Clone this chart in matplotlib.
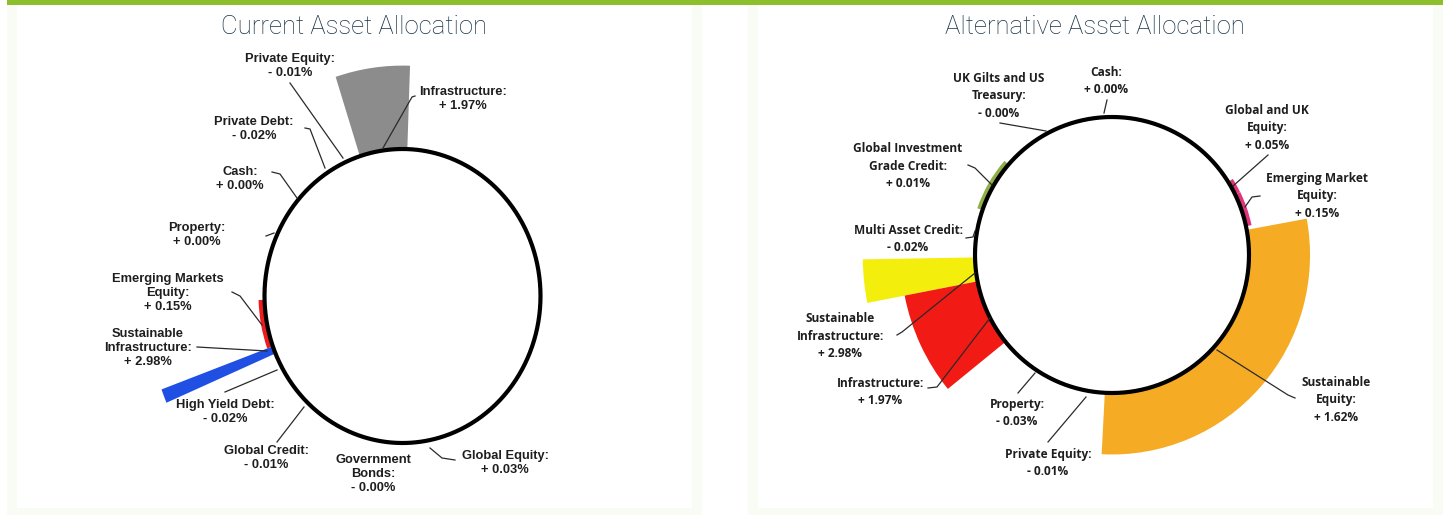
import math
import numpy as np
import matplotlib
matplotlib.use("Agg")
import matplotlib.pyplot as plt
from matplotlib.patches import Rectangle

W, H = 1451, 515

# ---------------- data ----------------
left_title = "Current Asset Allocation"
left_categories = ["Private Equity:", "Infrastructure:", "Private Debt:", "Cash:", "Property:",
                   "Emerging Markets\nEquity:", "Sustainable\nInfrastructure:", "High Yield Debt:",
                   "Global Credit:", "Government\nBonds:", "Global Equity:"]
left_values = [-0.01, 1.97, -0.02, 0.00, 0.00, 0.15, 2.98, -0.02, -0.01, -0.00, 0.03]
# allocation arc of each drawn segment (degrees clockwise from top); width 0 = not drawn
left_arc_start = [0, 342, 0, 0, 0, 250, 247, 0, 0, 0, 0]
left_arc_width = [0, 20, 0, 0, 0, 18.5, 3, 0, 0, 0, 0]
left_colors = ["#8c8c8c", "#8c8c8c", "#8c8c8c", "#8c8c8c", "#8c8c8c", "#ee1c1c", "#1f4fe3",
               "#8c8c8c", "#8c8c8c", "#8c8c8c", "#8c8c8c"]

right_title = "Alternative Asset Allocation"
right_categories = ["Cash:", "UK Gilts and US\nTreasury:", "Global and UK\nEquity:",
                    "Global Investment\nGrade Credit:", "Emerging Market\nEquity:",
                    "Multi Asset Credit:", "Sustainable\nInfrastructure:", "Infrastructure:",
                    "Property:", "Private Equity:", "Sustainable\nEquity:"]
right_values = [0.00, -0.00, 0.05, 0.01, 0.15, -0.02, 2.98, 1.97, -0.03, -0.01, 1.62]
right_arc_start = [0, 0, 58, 289, 64, 0, 259, 231, 0, 0, 79.5]
right_arc_width = [0, 0, 6, 22, 14, 0, 10, 28, 0, 0, 103.5]
right_colors = ["#888888", "#888888", "#e0357a", "#8db04a", "#e0357a", "#888888", "#f3ee0c",
                "#f21a14", "#888888", "#888888", "#f6ab24"]

# ---------------- layout (pixels) ----------------
left_geom = dict(cx=402.5, cy=296, rx=138, ry=147, scale=0.288)
right_geom = dict(cx=1112, cy=255, rx=137, ry=138, scale=0.275)

left_label_pos = [(290, 66), (463, 99), (254, 129), (240, 179), (197, 235), (168, 293),
                  (148, 348), (225, 412), (266, 458), (373, 474), (505, 463)]
left_leaders = [
    [(290, 83), (343, 158)],
    [(415, 96), (412, 97), (383, 148)],
    [(305, 128), (310, 129), (325, 168)],
    [(272, 172), (280, 174), (297, 198)],
    [(266, 236), (274, 233)],
    [(232, 292), (240, 296), (262, 325)],
    [(197, 347), (267, 351)],
    [(225, 392), (277, 370)],
    [(277, 442), (304, 407)],
    None,
    [(430, 448), (442, 458), (455, 460)],
]

right_label_pos = [(1106, 81), (999, 96), (1267, 128), (908, 166), (1317, 196), (908, 239),
                   (840, 336), (880, 392), (1017, 413), (1048, 463), (1336, 400)]
right_leaders = [
    [(1107, 100), (1104, 113)],
    [(1000, 123), (1046, 131)],
    [(1268, 155), (1233, 186)],
    [(968, 165), (975, 168), (992, 185)],
    [(1260, 196), (1252, 197), (1245, 207)],
    [(966, 238), (973, 237), (975, 231)],
    [(897, 335), (902, 332), (975, 273)],
    [(928, 388), (937, 387), (990, 318)],
    [(1018, 393), (1035, 373)],
    [(1048, 442), (1086, 397)],
    [(1295, 398), (1288, 395), (1217, 350)],
]

fig = plt.figure(figsize=(W / 100, H / 100), dpi=100)
fig.patch.set_facecolor("white")

# background frame
bg = fig.add_axes([0, 0, 1, 1], zorder=0)
bg.set_xlim(0, W)
bg.set_ylim(H, 0)
bg.axis("off")
pale = "#f9fbf5"
for x0, x1 in [(7, 702), (748, 1443)]:
    bg.add_patch(Rectangle((x0, 0), x1 - x0, H, facecolor=pale, edgecolor="none"))
    bg.add_patch(Rectangle((x0 + 10, 0), x1 - x0 - 20, 508, facecolor="white", edgecolor="none"))
bg.add_patch(Rectangle((7, 0), 1436, 4.5, facecolor="#8dbe2b", edgecolor="none"))

RMAX = 2.0


def polar_panel(geom, values, starts, widths, colors):
    cx, cy, rx, ry = geom["cx"], geom["cy"], geom["rx"], geom["ry"]
    ax = fig.add_axes([(cx - RMAX * rx) / W, (H - (cy + RMAX * ry)) / H,
                       2 * RMAX * rx / W, 2 * RMAX * ry / H], projection="polar", zorder=1)
    ax.set_aspect("auto")
    ax.set_theta_zero_location("N")
    ax.set_theta_direction(-1)
    ax.set_ylim(0, RMAX)
    for v, s, w, c in zip(values, starts, widths, colors):
        if w <= 0 or v <= 0:
            continue
        h = max(v * geom["scale"], 0.04)
        ax.bar(np.deg2rad(s + w / 2), h, width=np.deg2rad(w), bottom=1.0,
               color=c, edgecolor="none", align="center", zorder=2)
    th = np.linspace(0, 2 * np.pi, 721)
    ax.plot(th, np.ones_like(th), color="black", lw=3.0, zorder=3, solid_capstyle="butt")
    ax.axis("off")
    ax.patch.set_alpha(0)
    return ax


polar_panel(left_geom, left_values, left_arc_start, left_arc_width, left_colors)
polar_panel(right_geom, right_values, right_arc_start, right_arc_width, right_colors)

tx = fig.add_axes([0, 0, 1, 1], zorder=5)
tx.set_xlim(0, W)
tx.set_ylim(H, 0)
tx.axis("off")
tx.patch.set_alpha(0)

title_kw = dict(fontsize=18.5, family=["Roboto", "DejaVu Sans"], fontweight="light",
                color="#1a3346", ha="center", va="center")
tx.text(354, 27, left_title, **title_kw)
tx.text(1095, 27, right_title, **title_kw)


def fmt(v):
    sign = "-" if math.copysign(1.0, v) < 0 else "+"
    return f"{sign} {abs(v):.2f}%"


for cat, v, (x, y), lead in zip(left_categories, left_values, left_label_pos, left_leaders):
    tx.text(x, y, cat + "\n" + fmt(v), ha="center", va="center", fontsize=9.3,
            family=["Liberation Sans", "DejaVu Sans"], fontweight="bold", color="#1e1e1e",
            linespacing=1.26)
    if lead:
        xs, ys = zip(*lead)
        tx.plot(xs, ys, color="#2a2a2a", lw=0.9)

for cat, v, (x, y), lead in zip(right_categories, right_values, right_label_pos, right_leaders):
    tx.text(x, y, cat + "\n" + fmt(v), ha="center", va="center", fontsize=8.6,
            family=["Open Sans", "DejaVu Sans"], fontweight="bold", color="#1e1e1e",
            linespacing=1.47)
    if lead:
        xs, ys = zip(*lead)
        tx.plot(xs, ys, color="#2a2a2a", lw=0.9)

fig.savefig("out.png", dpi=100, facecolor="white")
